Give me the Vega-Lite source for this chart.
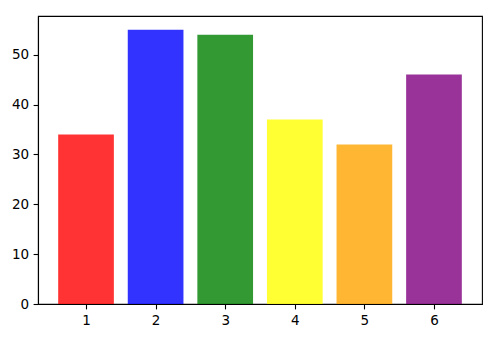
{
  "$schema": "https://vega.github.io/schema/vega-lite/v6.json",
  "width": 444,
  "height": 288,
  "autosize": {"type": "none"},
  "padding": {"left": 38, "top": 16, "right": 18, "bottom": 38},
  "background": "white",
  "config": {
    "view": {"stroke": "#000000", "strokeWidth": 1.1},
    "axis": {
      "grid": false,
      "domainColor": "#000000",
      "domainWidth": 1.1,
      "tickColor": "#000000",
      "tickWidth": 1.1,
      "tickSize": 4.9,
      "labelFont": "DejaVu Sans",
      "labelFontSize": 13.5,
      "labelColor": "#000000",
      "labelPadding": 4.5,
      "title": null
    }
  },
  "data": {
    "values": [
      {"category": 1, "value": 34, "color": "red"},
      {"category": 2, "value": 55, "color": "blue"},
      {"category": 3, "value": 54, "color": "green"},
      {"category": 4, "value": 37, "color": "yellow"},
      {"category": 5, "value": 32, "color": "orange"},
      {"category": 6, "value": 46, "color": "purple"}
    ]
  },
  "mark": {"type": "bar", "width": 55.7, "opacity": 0.8},
  "encoding": {
    "x": {
      "field": "category",
      "type": "quantitative",
      "scale": {"domain": [0.31, 6.69], "nice": false, "zero": false, "padding": 0},
      "axis": {"values": [1, 2, 3, 4, 5, 6], "labelFlush": false, "labelOverlap": false}
    },
    "y": {
      "field": "value",
      "type": "quantitative",
      "scale": {"domain": [0, 57.75], "nice": false},
      "axis": {"values": [0, 10, 20, 30, 40, 50]}
    },
    "color": {
      "field": "color",
      "type": "nominal",
      "scale": {
        "domain": ["red", "blue", "green", "yellow", "orange", "purple"],
        "range": ["#ff0000", "#0000ff", "#008000", "#ffff00", "#ffa500", "#800080"]
      },
      "legend": null
    }
  }
}
